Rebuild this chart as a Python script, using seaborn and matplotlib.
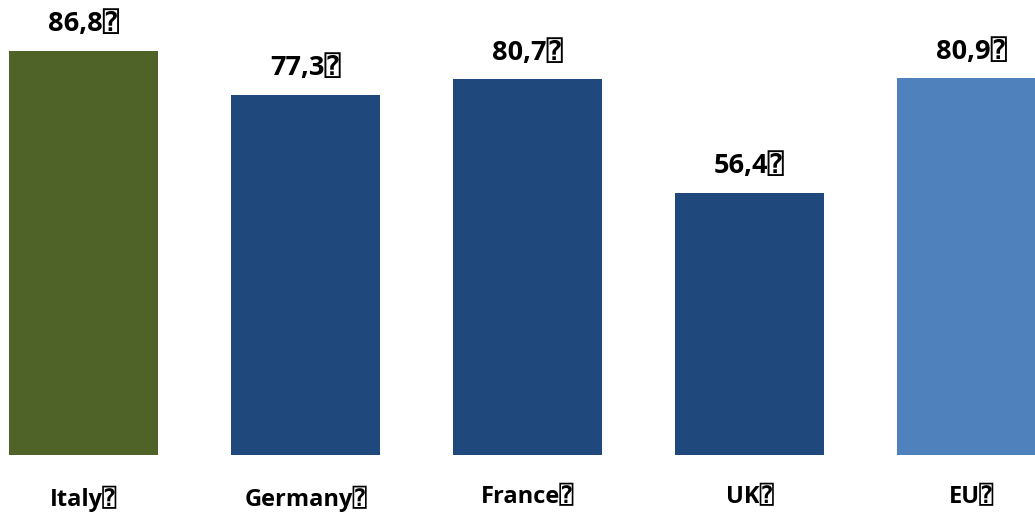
import matplotlib
matplotlib.use("Agg")
import matplotlib.pyplot as plt
import seaborn as sns

# data
countries = ["Italy", "Germany", "France", "UK", "EU"]
values = [86.8, 77.3, 80.7, 56.4, 80.9]
labels = ["86,8", "77,3", "80,7", "56,4", "80,9"]
colors = ["#4F6228", "#1F497D", "#1F497D", "#1F497D", "#4F81BD"]

sns.set_style("white")
plt.rcParams["font.family"] = ["Open Sans", "DejaVu Sans", "DejaVu Sans Mono"]
plt.rcParams["text.color"] = "black"
plt.rcParams["xtick.color"] = "black"

fig = plt.figure(figsize=(10.35, 5.14), dpi=100)
ax = fig.add_axes([0, 59 / 514, 1, 455 / 514])

sns.barplot(x=countries, y=values, hue=countries, palette=colors,
            width=0.667, legend=False, ax=ax, saturation=1, linewidth=0)

for i, (v, lab) in enumerate(zip(values, labels)):
    ax.annotate(lab + "\u2370", (i, v), xytext=(0, 10), textcoords="offset points",
                ha="center", va="bottom", fontsize=19.5, fontweight="bold")

ax.set_xlim(-83.5 / 222, (1035 - 83.5) / 222)
ax.set_ylim(0, 455 / 4.654)
ax.set_xticks(range(len(countries)))
ax.set_xticklabels([c + "\u2370" for c in countries], fontsize=17, fontweight="bold")
ax.tick_params(axis="x", length=0, pad=22)
ax.set_yticks([])
ax.set_xlabel("")
ax.set_ylabel("")
for s in ax.spines.values():
    s.set_visible(False)

fig.savefig("out.png", dpi=100)
